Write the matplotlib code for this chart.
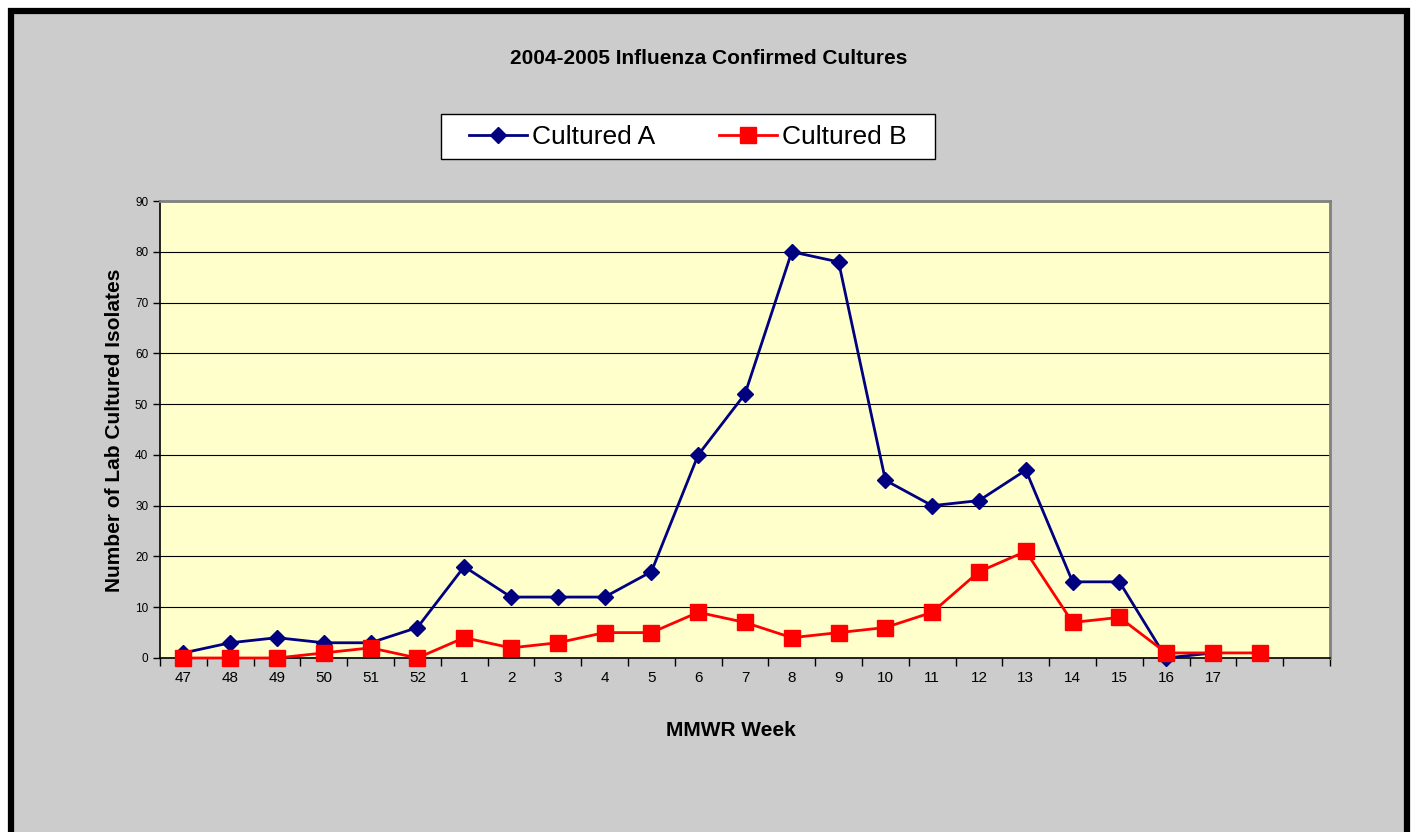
import matplotlib
matplotlib.use('Agg')

import matplotlib.pyplot as plt
from matplotlib.patches import Rectangle

plt.rcParams['font.family'] = ['Liberation Sans', 'DejaVu Sans']

# Weekly culture counts, season 2004-2005
weeks = ['47', '48', '49', '50', '51', '52', '1', '2', '3', '4', '5', '6',
         '7', '8', '9', '10', '11', '12', '13', '14', '15', '16', '17']
cultured_a = [1, 3, 4, 3, 3, 6, 18, 12, 12, 12, 17, 40, 52, 80, 78, 35, 30,
              31, 37, 15, 15, 0, 1]
cultured_b = [0, 0, 0, 1, 2, 0, 4, 2, 3, 5, 5, 9, 7, 4, 5, 6, 9, 17, 21, 7,
              8, 1, 1, 1]
n_slots = 25

W, H = 1414, 832
fig = plt.figure(figsize=(W / 100, H / 100), dpi=100, facecolor='white')

# grey chart area with the thick black frame
fig.patches.append(Rectangle((11 / W, -0.05), 1396 / W, 1.05 - 11 / H,
                             transform=fig.transFigure, facecolor='#cccccc',
                             edgecolor='black', linewidth=4.5, zorder=-5))
# legend box
fig.patches.append(Rectangle((441 / W, 1 - 159 / H), 494 / W, 45 / H,
                             transform=fig.transFigure, facecolor='white',
                             edgecolor='black', linewidth=1, zorder=-4))

ax = fig.add_axes([160 / W, (H - 658) / H, 1170 / W, 457 / H])
ax.set_facecolor('#ffffcc')

xa = [i + 0.5 for i in range(len(cultured_a))]
xb = [i + 0.5 for i in range(len(cultured_b))]
ax.plot(xa, cultured_a, color='#000080', lw=2, marker='D', ms=8,
        label='Cultured A', zorder=3, clip_on=False)
ax.plot(xb, cultured_b, color='#ff0000', lw=2, marker='s', ms=11,
        label='Cultured B', zorder=4, clip_on=False)

ax.set_xlim(0, n_slots)
ax.set_ylim(0, 90)
ax.set_yticks(range(0, 91, 10))
ax.yaxis.grid(True, color='black', lw=0.8)
ax.set_axisbelow(True)

ax.set_xticks(range(n_slots + 1))
ax.set_xticklabels([])
ax.set_xticks([i + 0.5 for i in range(len(weeks))], minor=True)
ax.set_xticklabels(weeks, minor=True)
ax.tick_params(axis='x', which='major', length=6, direction='out', width=1)
ax.tick_params(axis='x', which='minor', length=0, pad=9, labelsize=11)
ax.tick_params(axis='y', length=5, direction='out', width=1, labelsize=8.5)

for s in ['top', 'right']:
    ax.spines[s].set_color('#808080')
    ax.spines[s].set_linewidth(2)
for s in ['left', 'bottom']:
    ax.spines[s].set_color('black')
    ax.spines[s].set_linewidth(1.2)

ax.set_xlabel('MMWR Week', fontsize=15, fontweight='bold', va='center')
ax.xaxis.set_label_coords((731 - 160) / 1170, (658 - 730) / 457)
ax.set_ylabel('Number of Lab Cultured Isolates', fontsize=15,
              fontweight='bold', va='center')
ax.yaxis.set_label_coords((115 - 160) / 1170, (658 - 430) / 457)

fig.text(709 / W, 1 - 59 / H, '2004-2005 Influenza Confirmed Cultures',
         ha='center', va='center', fontsize=15, fontweight='bold')

fig.legend(loc='center', bbox_to_anchor=(688 / W, 1 - 137 / H),
           ncol=2, fontsize=19, frameon=False,
           handlelength=2.2, columnspacing=2.4, handletextpad=0.2)

fig.savefig('out.png', dpi=100, facecolor=fig.get_facecolor())
